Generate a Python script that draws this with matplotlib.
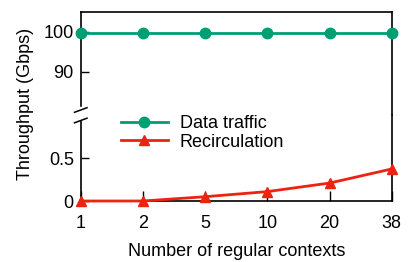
import matplotlib
matplotlib.use('Agg')
import matplotlib.pyplot as plt
from matplotlib.lines import Line2D

plt.rcParams['font.family'] = ['Liberation Sans', 'DejaVu Sans']
plt.rcParams['font.size'] = 13

contexts = ['1', '2', '5', '10', '20', '38']
data_traffic = [99.8, 99.8, 99.8, 99.8, 99.8, 99.8]
recirculation = [0.0, 0.0, 0.05, 0.11, 0.21, 0.375]

green = '#009E73'
red = '#EE2211'
W, H = 411, 262
x = list(range(len(contexts)))

fig = plt.figure(figsize=(W/100, H/100), dpi=100)
# axes boxes in pixel coords -> figure fractions
left, right = 80.7/W, 391.7/W
y_bot, y_mid, y_top = 1-201/H, 1-115/H, 1-12.3/H
ax_top = fig.add_axes([left, y_mid, right-left, y_top-y_mid])
ax_bot = fig.add_axes([left, y_bot, right-left, y_mid-y_bot], sharex=ax_top)

ax_top.plot(x, data_traffic, color=green, marker='o', markersize=7.5, linewidth=2, clip_on=False, zorder=3)
ax_bot.plot(x, recirculation, color=red, marker='^', markersize=7.5, linewidth=2, clip_on=False, zorder=3)

ax_top.set_ylim(79.2, 104.85)
ax_bot.set_ylim(0, 1.007)
ax_top.set_xlim(0, len(contexts)-1)
ax_top.set_yticks([90, 100])
ax_bot.set_yticks([0, 0.5])
ax_bot.set_yticklabels(['0', '0.5'])
ax_bot.set_xticks(x)
ax_bot.set_xticklabels(contexts)

ax_top.spines['bottom'].set_visible(False)
ax_bot.spines['top'].set_visible(False)
ax_top.spines['left'].set_bounds(81.4, 104.85)
ax_bot.spines['left'].set_bounds(0, 0.94)
for a in (ax_top, ax_bot):
    for s in a.spines.values():
        s.set_linewidth(1.2)
    a.tick_params(direction='in', length=6, width=1, pad=5, labelsize=13)
ax_top.tick_params(axis='x', bottom=False, labelbottom=False)
ax_bot.tick_params(axis='x', length=7, pad=10)

# break marks on left spine
for yb in (110.0, 120.5):
    fig.add_artist(Line2D([74.5/W, 87/W], [1-(yb+2.3)/H, 1-(yb-2.3)/H], color='black', linewidth=1.1))

ax_bot.set_xlabel('Number of regular contexts', fontsize=13, labelpad=8)
fig.text(25/W, 1-104/H, 'Throughput (Gbps)', rotation=90, ha='center', va='center', fontsize=13)

handles = [Line2D([], [], color=green, marker='o', markersize=7.5, linewidth=2),
           Line2D([], [], color=red, marker='^', markersize=7.5, linewidth=2)]
ax_bot.legend(handles, ['Data traffic', 'Recirculation'], loc='upper left',
              bbox_to_anchor=(121/W, 1-115/H), bbox_transform=fig.transFigure,
              frameon=False, fontsize=13, handlelength=2.6, handletextpad=0.65,
              labelspacing=0.1, borderaxespad=0, borderpad=0)

fig.savefig('out.png', dpi=100)
